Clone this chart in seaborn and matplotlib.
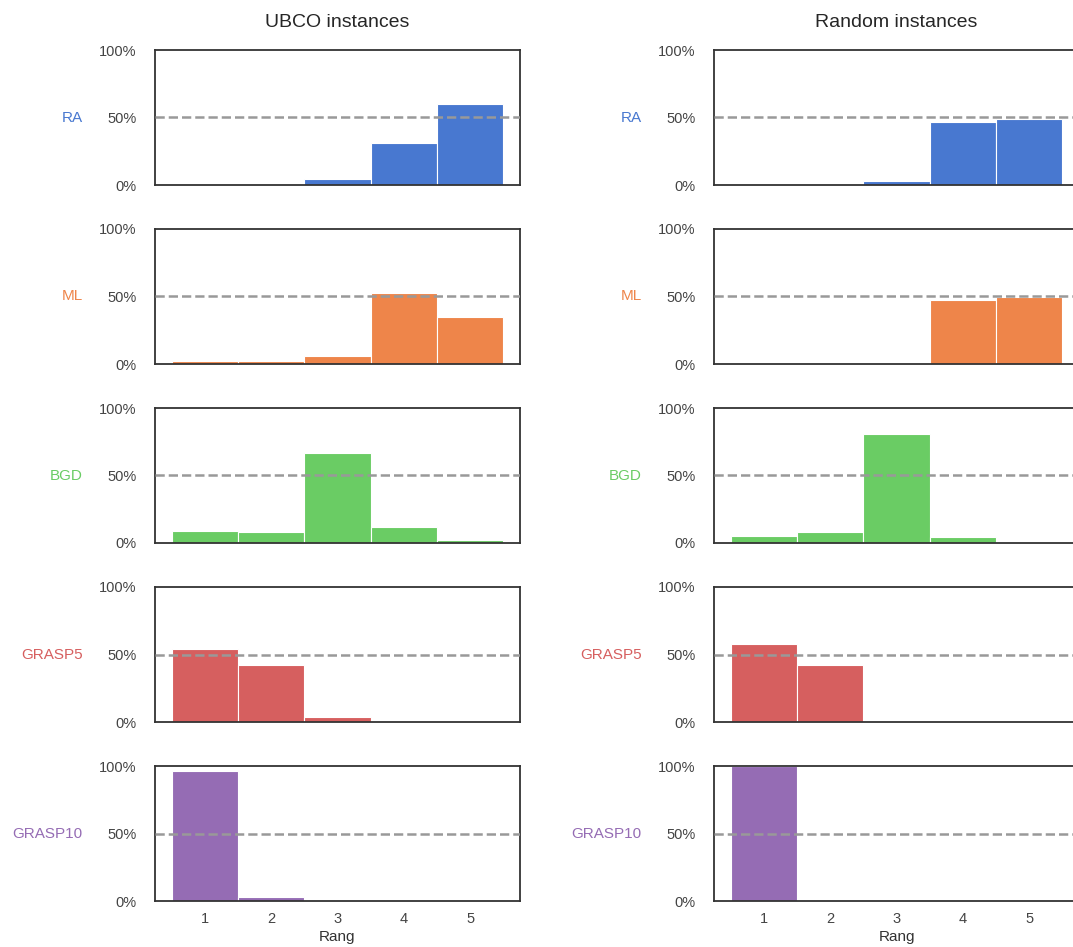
import matplotlib
matplotlib.use("Agg")
import numpy as np
import pandas as pd
import seaborn as sns
import matplotlib.pyplot as plt
from matplotlib.ticker import PercentFormatter

# ---- data (percent of instances per rank) ----
ranks = [1, 2, 3, 4, 5]
algorithms = ["RA", "ML", "BGD", "GRASP5", "GRASP10"]
panels = ["UBCO instances", "Random instances"]

ubco_ra = [0.0, 0.0, 4.7, 31.4, 60.3]
ubco_ml = [2.0, 2.0, 5.9, 52.6, 34.8]
ubco_bgd = [8.6, 7.9, 66.4, 11.9, 2.0]
ubco_grasp5 = [53.8, 42.0, 3.4, 0.0, 0.0]
ubco_grasp10 = [96.3, 3.0, 0.0, 0.0, 0.0]

rand_ra = [0.0, 0.0, 3.0, 46.7, 48.7]
rand_ml = [0.0, 0.0, 0.0, 47.6, 49.6]
rand_bgd = [4.9, 7.9, 81.0, 4.1, 0.0]
rand_grasp5 = [57.5, 42.0, 0.0, 0.0, 0.0]
rand_grasp10 = [100.0, 0.0, 0.0, 0.0, 0.0]

data = {
    "UBCO instances": [ubco_ra, ubco_ml, ubco_bgd, ubco_grasp5, ubco_grasp10],
    "Random instances": [rand_ra, rand_ml, rand_bgd, rand_grasp5, rand_grasp10],
}

sns.set_theme(style="white")
plt.rcParams["font.family"] = ["Liberation Sans", "DejaVu Sans"]

W, H = 1073, 947
fig = plt.figure(figsize=(W / 100, H / 100), dpi=100)
palette = sns.color_palette("muted")

col_x = [155, 714]
axw, axh = 365, 135
tops = [50, 229, 408, 587, 766]

for c, panel in enumerate(panels):
    for r, alg in enumerate(algorithms):
        ax = fig.add_axes([col_x[c] / W, 1 - (tops[r] + axh) / H, axw / W, axh / H])
        df = pd.DataFrame({"Rang": ranks, "share": np.array(data[panel][r]) / 100.0})
        sns.barplot(data=df, x="Rang", y="share", native_scale=True, width=1,
                    color=palette[r], saturation=1, errorbar=None,
                    edgecolor="white", linewidth=0.8, ax=ax)
        ax.axhline(0.5, color="#999999", ls="--", lw=1.8, zorder=3)
        ax.set_ylim(0, 1)
        ax.set_xlim(0.25, 5.75)
        ax.set_yticks([0, 0.5, 1])
        ax.yaxis.set_major_formatter(PercentFormatter(1, decimals=0))
        ax.tick_params(axis="y", length=0, pad=13.5, labelsize=10.5, colors="#444444")
        ax.set_ylabel(alg, rotation=0, ha="right", va="center", color=palette[r],
                      fontsize=11, labelpad=11.5)
        if r == len(algorithms) - 1:
            ax.set_xticks(ranks)
            ax.set_xticklabels([str(v) for v in ranks])
            ax.tick_params(axis="x", length=0, pad=8, labelsize=10.5, colors="#444444")
            ax.set_xlabel("Rang", fontsize=11, color="#333333", labelpad=3)
        else:
            ax.set_xticks([])
            ax.set_xlabel("")
        for s in ax.spines.values():
            s.set_color("#333333")
            s.set_linewidth(1.3)
        if r == 0:
            ax.set_title(panel, fontsize=14, pad=16.5, color="#262626")

fig.savefig("out.png", dpi=100)
